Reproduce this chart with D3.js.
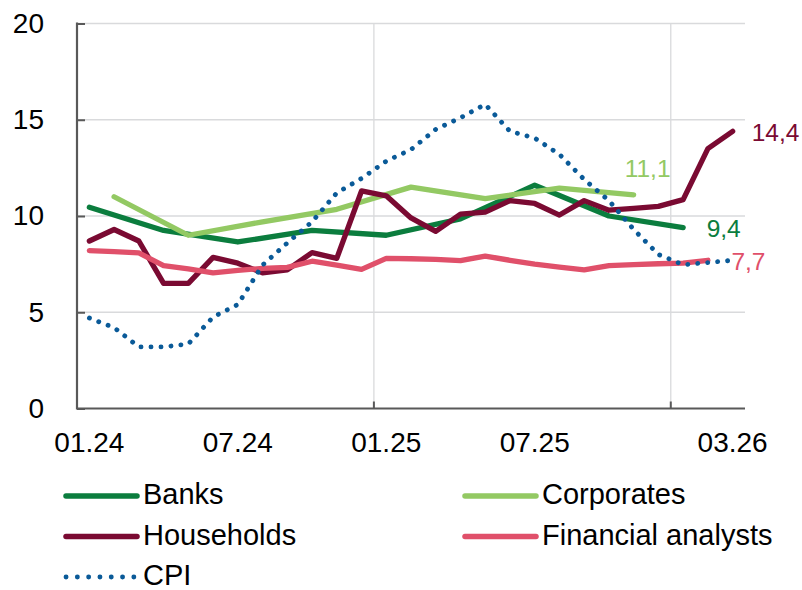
<!DOCTYPE html>
<html>
<head>
<meta charset="utf-8">
<script src="https://cdn.jsdelivr.net/npm/d3@7"></script>
<style>
  body { margin: 0; background: #fff; }
  svg { display: block; font-family: Arial, "Liberation Sans", sans-serif; }
</style>
</head>
<body>
<svg id="chart" width="802" height="590"></svg>
<script>
// months on the x axis
var months = ["01.24","02.24","03.24","04.24","05.24","06.24","07.24","08.24","09.24","10.24","11.24","12.24",
              "01.25","02.25","03.25","04.25","05.25","06.25","07.25","08.25","09.25","10.25","11.25","12.25",
              "01.26","02.26","03.26"];
var tickLabels = ["01.24","07.24","01.25","07.25","03.26"];
var yearStarts = ["01.25","01.26"];
var yTicks = [0, 5, 10, 15, 20];

// survey series (quarterly)
var banksMonths = ["01.24","04.24","07.24","10.24","01.25","04.25","07.25","10.25","01.26"];
var banks = [10.45, 9.25, 8.65, 9.25, 9.0, 9.85, 11.6, 10.0, 9.4];
var corporatesMonths = ["02.24","05.24","08.24","11.24","02.25","05.25","08.25","11.25"];
var corporates = [11.0, 9.0, 9.7, 10.35, 11.5, 10.9, 11.45, 11.1];

// monthly series
var households = [8.7, 9.3, 8.7, 6.5, 6.5, 7.85, 7.55, 7.05, 7.2, 8.1, 7.8, 11.3, 11.05, 9.9, 9.2,
                  10.1, 10.2, 10.8, 10.65, 10.05, 10.8, 10.3, 10.4, 10.5, 10.85, 13.5, 14.4];
var analysts = [8.2, 8.15, 8.08, 7.42, 7.25, 7.05, 7.17, 7.28, 7.33, 7.65, 7.45, 7.23, 7.8, 7.78,
                7.75, 7.68, 7.92, 7.7, 7.5, 7.35, 7.2, 7.42, 7.47, 7.52, 7.55, 7.7];
var cpi = [4.7, 4.2, 3.2, 3.2, 3.35, 4.75, 5.4, 7.45, 8.6, 9.7, 11.2, 11.95, 12.85, 13.45, 14.5,
           15.1, 15.8, 14.4, 14.05, 13.2, 11.9, 10.8, 9.3, 8.0, 7.47, 7.58, 7.7];

var svg = d3.select("#chart");

var x = d3.scalePoint()
    .domain(months)
    .range([77, 745])
    .padding(0.5);

var y = d3.scaleLinear()
    .domain([0, 20])
    .range([408.5, 23.5]);

var step = x.step();

// gridlines
svg.append("g")
    .selectAll("line")
    .data(yTicks.filter(d => d > 0))
    .join("line")
    .attr("x1", 77).attr("x2", 745)
    .attr("y1", d => y(d)).attr("y2", d => y(d))
    .attr("stroke", "#d9dadc")
    .attr("stroke-width", 1.3);

svg.append("g")
    .selectAll("line")
    .data(yearStarts)
    .join("line")
    .attr("x1", d => x(d) - step / 2).attr("x2", d => x(d) - step / 2)
    .attr("y1", y(20)).attr("y2", y(0))
    .attr("stroke", "#d9dadc")
    .attr("stroke-width", 1.3);

// y axis
var yAxis = d3.axisLeft(y)
    .tickValues(yTicks)
    .tickSize(-8)
    .tickPadding(33);

var gy = svg.append("g")
    .attr("transform", "translate(77,0)")
    .call(yAxis);
gy.select(".domain").remove();
gy.selectAll(".tick line").attr("stroke", "#595959").attr("stroke-width", 2);
gy.selectAll("text").attr("font-size", 28).attr("fill", "#000").attr("font-family", "Arial, 'Liberation Sans', sans-serif");
gy.append("line")
    .attr("x1", 0).attr("x2", 0)
    .attr("y1", y(20) - 1).attr("y2", y(0) + 1)
    .attr("stroke", "#595959").attr("stroke-width", 2.2);

// x axis
var gx = svg.append("g");
gx.append("line")
    .attr("x1", 77).attr("x2", 745)
    .attr("y1", y(0)).attr("y2", y(0))
    .attr("stroke", "#595959").attr("stroke-width", 2.2);
gx.selectAll(".xtick")
    .data(yearStarts)
    .join("line")
    .attr("class", "xtick")
    .attr("x1", d => x(d) - step / 2).attr("x2", d => x(d) - step / 2)
    .attr("y1", y(0)).attr("y2", y(0) - 7)
    .attr("stroke", "#595959").attr("stroke-width", 2);
gx.selectAll("text")
    .data(tickLabels)
    .join("text")
    .attr("x", d => x(d))
    .attr("y", 451.5)
    .attr("text-anchor", "middle")
    .attr("font-size", 28)
    .attr("fill", "#000")
    .text(d => d);

// series
var series = [
    { name: "Banks", months: banksMonths, values: banks, color: "#0b7d3e", dash: null },
    { name: "Corporates", months: corporatesMonths, values: corporates, color: "#93c963", dash: null },
    { name: "Households", months: months, values: households, color: "#7a0a32", dash: null },
    { name: "Financial analysts", months: months.slice(0, analysts.length), values: analysts, color: "#e0506a", dash: null },
    { name: "CPI", months: months, values: cpi, color: "#0a5a98", dash: "0.1 9.9" }
];

var line = d3.line()
    .x(d => x(d[0]))
    .y(d => y(d[1]));

svg.append("g")
    .selectAll("path")
    .data(series)
    .join("path")
    .attr("d", s => line(s.months.map((m, i) => [m, s.values[i]])))
    .attr("fill", "none")
    .attr("stroke", s => s.color)
    .attr("stroke-width", s => s.dash ? 4.8 : 5.3)
    .attr("stroke-linejoin", "round")
    .attr("stroke-linecap", "round")
    .attr("stroke-dasharray", s => s.dash);

// end labels
var endLabels = [
    { s: 2, dx: 19, dy: 1.5 },
    { s: 1, dx: -9, dy: -26 },
    { s: 0, dx: 23.5, dy: 1 },
    { s: 3, dx: 23.5, dy: 1.5 }
];
svg.append("g")
    .selectAll("text")
    .data(endLabels)
    .join("text")
    .attr("x", d => x(series[d.s].months[series[d.s].months.length - 1]) + d.dx)
    .attr("y", d => y(series[d.s].values[series[d.s].values.length - 1]) + d.dy)
    .attr("dy", "0.35em")
    .attr("font-size", 24.5)
    .attr("fill", d => series[d.s].color)
    .text(d => series[d.s].values[series[d.s].values.length - 1].toFixed(1).replace(".", ","));

// legend
var legendPos = [[66, 496], [465, 496], [66, 536.5], [465, 536.5], [66, 577]];
var leg = svg.append("g")
    .selectAll("g")
    .data(series)
    .join("g")
    .attr("transform", (d, i) => `translate(${legendPos[i][0]},${legendPos[i][1]})`);
leg.append("line")
    .attr("x1", 0).attr("x2", 71)
    .attr("stroke", d => d.color)
    .attr("stroke-width", d => d.dash ? 4.8 : 5.5)
    .attr("stroke-linecap", "round")
    .attr("stroke-dasharray", d => d.dash ? "0.1 11.2" : null);
leg.append("text")
    .attr("x", 77)
    .attr("y", -2)
    .attr("dy", "0.35em")
    .attr("font-size", 29)
    .attr("fill", "#000")
    .text(d => d.name);
</script>
</body>
</html>
